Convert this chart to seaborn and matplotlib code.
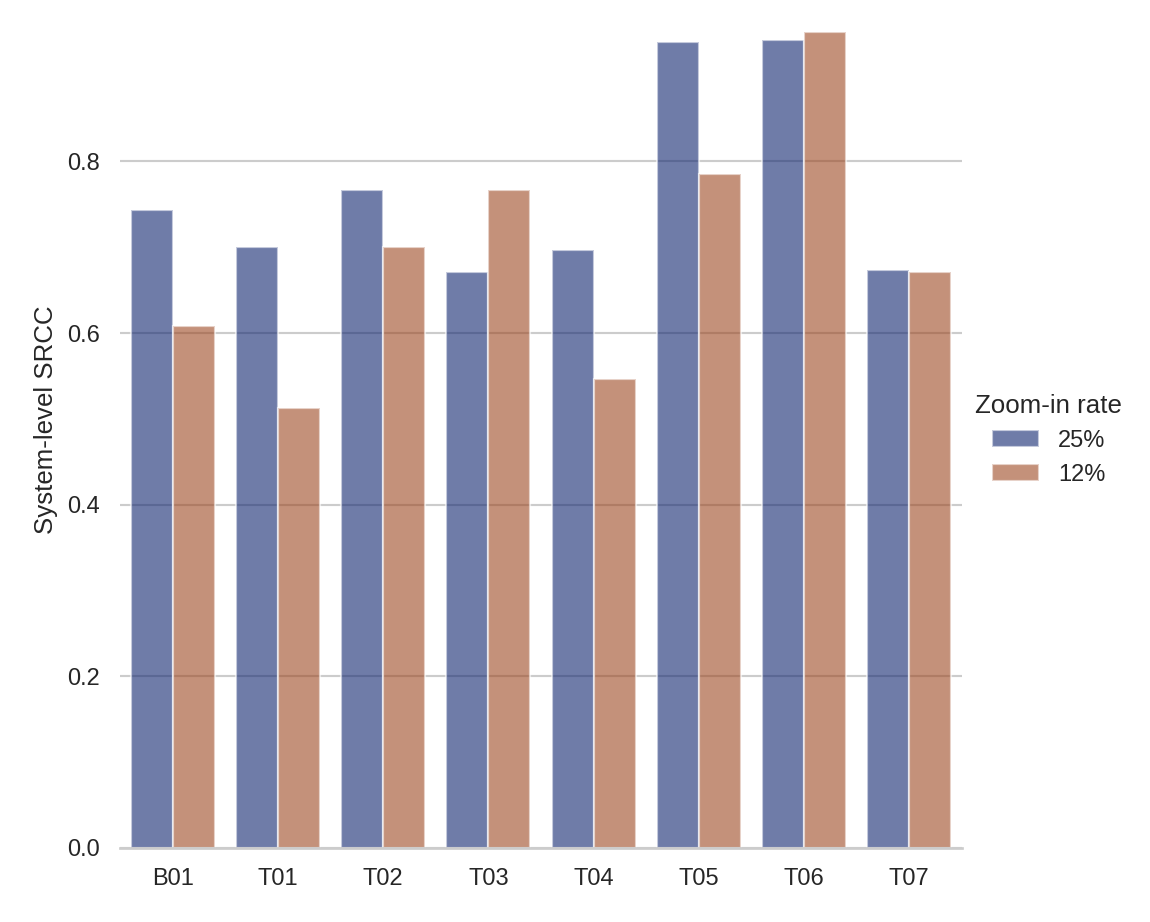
import matplotlib
matplotlib.use("Agg")
import matplotlib.pyplot as plt
import pandas as pd
import seaborn as sns

# Valores
sistemas = ["B01", "T01", "T02", "T03", "T04", "T05", "T06", "T07"]
srcc_25 = [0.743, 0.700, 0.767, 0.671, 0.697, 0.939, 0.941, 0.673]
srcc_12 = [0.608, 0.513, 0.700, 0.767, 0.546, 0.785, 0.951, 0.671]
taxas = ["25%", "12%"]

df = pd.DataFrame({
    "system": sistemas * 2,
    "srcc": srcc_25 + srcc_12,
    "rate": [taxas[0]] * len(sistemas) + [taxas[1]] * len(sistemas),
})

sns.set_theme(style="whitegrid")
plt.rcParams["font.family"] = ["Liberation Sans", "DejaVu Sans"]

dpi = 155
fig = plt.figure(figsize=(1150 / dpi, 922 / dpi), dpi=dpi)
ax = fig.add_axes([120 / 1150, 74 / 922, 842 / 1150, 857 / 922])

sns.barplot(
    data=df, x="system", y="srcc", hue="rate",
    palette="dark", alpha=.6, errorbar=None, ax=ax,
)

ax.set_xlabel("")
ax.set_ylabel("System-level SRCC")
ax.set_yticks([0.0, 0.2, 0.4, 0.6, 0.8])
ax.set_ylim(0, 0.9986)
ax.grid(axis="x", visible=False)
sns.despine(ax=ax, left=True)

# Legenda fora do eixo, à direita
ax.legend(
    title="Zoom-in rate", loc="center left",
    bbox_to_anchor=(954 / 1150, 1 - 440 / 922), bbox_transform=fig.transFigure,
    frameon=False,
)

fig.savefig("out.png", dpi=dpi)
